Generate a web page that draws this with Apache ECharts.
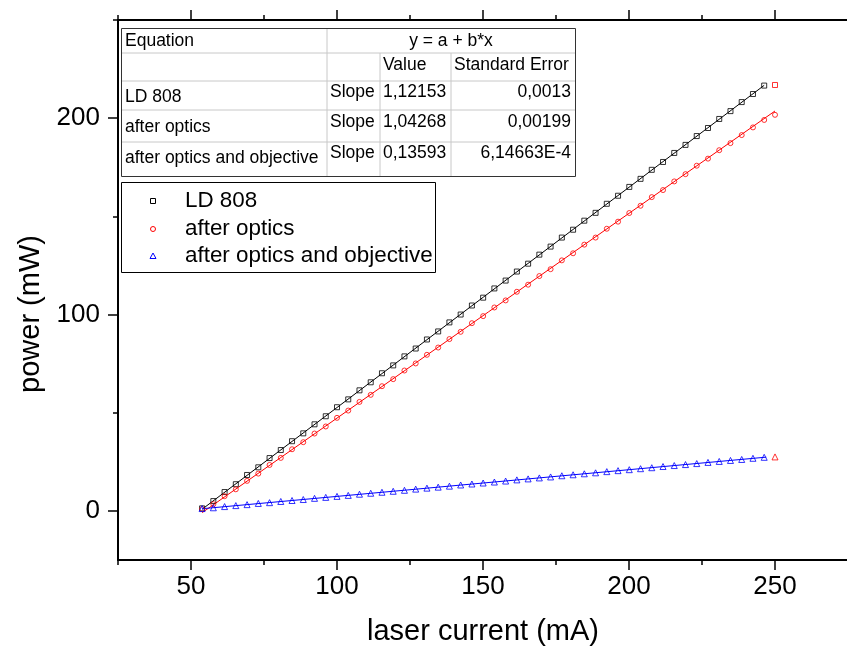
<!DOCTYPE html>
<html>
<head>
<meta charset="utf-8">
<title>LD 808 power vs current</title>
<script src="https://cdn.jsdelivr.net/npm/echarts@6/dist/echarts.min.js"></script>
<style>
  html, body { margin: 0; padding: 0; background: #fff; }
  #chart { width: 847px; height: 652px; }
</style>
</head>
<body>
<div id="chart"></div>
<script>
// Measured laser current (mA)
const current = [53.80, 57.65, 61.50, 65.35, 69.20, 73.05, 76.90, 80.75, 84.60, 88.45,
  92.30, 96.15, 100.00, 103.85, 107.70, 111.55, 115.40, 119.25, 123.10, 126.95,
  130.80, 134.65, 138.50, 142.35, 146.20, 150.05, 153.90, 157.75, 161.60, 165.45,
  169.30, 173.15, 177.00, 180.85, 184.70, 188.55, 192.40, 196.25, 200.10, 203.95,
  207.80, 211.65, 215.50, 219.35, 223.20, 227.05, 230.90, 234.75, 238.60, 242.45, 246.30];

// Optical power (mW) at each current
const ld808 = [1.3, 5.0, 9.6, 13.6, 18.3, 22.2, 26.9, 31.0, 35.5, 39.5,
  44.1, 48.2, 52.8, 56.8, 61.4, 65.5, 70.1, 74.1, 78.7, 82.7,
  87.3, 91.4, 96.0, 100.0, 104.6, 108.6, 113.3, 117.3, 121.9, 125.9,
  130.5, 134.6, 139.2, 143.2, 147.8, 151.8, 156.4, 160.5, 165.0, 169.1,
  173.7, 177.7, 182.3, 186.4, 190.9, 195.0, 199.6, 203.6, 208.2, 212.3, 216.6];
const afterOptics = [0.9, 3.4, 7.5, 11.0, 15.3, 19.0, 23.4, 27.0, 31.4, 35.0,
  39.4, 43.0, 47.4, 51.1, 55.5, 59.1, 63.5, 67.1, 71.5, 75.1,
  79.5, 83.2, 87.5, 91.2, 95.6, 99.2, 103.6, 107.2, 111.6, 115.2,
  119.6, 123.1, 127.6, 131.2, 135.6, 139.2, 143.7, 147.3, 151.7, 155.4,
  159.8, 163.4, 167.8, 171.5, 175.8, 179.4, 183.7, 187.3, 191.4, 195.3, 199.1];
const afterObjective = [1.2, 1.6, 2.2, 2.7, 3.2, 3.8, 4.2, 4.8, 5.3, 5.8,
  6.4, 6.9, 7.4, 7.9, 8.5, 9.0, 9.5, 10.0, 10.5, 11.1,
  11.6, 12.1, 12.6, 13.2, 13.7, 14.2, 14.7, 15.2, 15.8, 16.3,
  16.8, 17.3, 17.9, 18.4, 18.9, 19.4, 20.0, 20.5, 21.0, 21.5,
  22.0, 22.6, 23.1, 23.6, 24.1, 24.7, 25.2, 25.7, 26.2, 26.8, 27.3];

// Points excluded from the fits (drawn in red)
const maskedCurrent = 250;
const maskedPower = [216.9, 201.7, 27.5];

// Linear fits y = a + b*x
const seriesNames = ['LD 808', 'after optics', 'after optics and objective'];
const slopes = [1.12153, 1.04268, 0.13593];
const intercepts = [-59.5, -57.0, -6.2];
const fitStart = [53.8, 53.8, 53.8];
const fitEnd = [246.3, 250.0, 247.0];
const slopeText = ['1,12153', '1,04268', '0,13593'];
const stdErrText = ['0,0013', '0,00199', '6,14663E-4'];

// Axis ticks
const xMajorTicks = [50, 100, 150, 200, 250];
const xMinorTicks = [25, 75, 125, 175, 225, 275];
const yMajorTicks = [0, 100, 200];
const yMinorTicks = [50, 150, 250];

const colors = ['#000000', '#ff0000', '#0000ff'];
const symbols = ['rect', 'circle', 'triangle'];
const FONT = '"Liberation Sans", Arial, sans-serif';

const chart = echarts.init(document.getElementById('chart'), null, { renderer: 'canvas' });

const X_MIN = 25, X_MAX = 275, Y_MIN = -25, Y_MAX = 250;

function axisBase(extra) {
  return Object.assign({
    type: 'value', min: X_MIN, max: X_MAX,
    splitLine: { show: false },
    axisLine: { show: false, onZero: false, lineStyle: { color: '#000', width: 2 } },
    axisTick: { show: true, inside: false, lineStyle: { color: '#000', width: 1.5 } },
    axisLabel: { show: false }
  }, extra);
}

const xAxes = [
  axisBase({
    position: 'bottom',
    name: 'laser current (mA)', nameLocation: 'middle', nameGap: 57,
    nameTextStyle: { fontFamily: FONT, fontSize: 29, color: '#000' },
    axisLine: { show: true, onZero: false, lineStyle: { color: '#000', width: 2 } },
    axisTick: { show: true, length: 10, customValues: xMajorTicks, lineStyle: { color: '#000', width: 1.5 } },
    axisLabel: { show: true, customValues: xMajorTicks, margin: 14, fontFamily: FONT, fontSize: 26, color: '#000' }
  }),
  axisBase({ position: 'bottom', axisTick: { show: true, length: 5, customValues: xMinorTicks, lineStyle: { color: '#000', width: 1.5 } } }),
  axisBase({
    position: 'top',
    axisLine: { show: true, onZero: false, lineStyle: { color: '#000', width: 2 } },
    axisTick: { show: true, length: 10, customValues: xMajorTicks, lineStyle: { color: '#000', width: 1.5 } }
  }),
  axisBase({ position: 'top', axisTick: { show: true, length: 5, customValues: xMinorTicks, lineStyle: { color: '#000', width: 1.5 } } })
];

const yAxes = [
  axisBase({
    min: Y_MIN, max: Y_MAX, position: 'left',
    axisLine: { show: true, onZero: false, lineStyle: { color: '#000', width: 2 } },
    axisTick: { show: true, length: 10, customValues: yMajorTicks, lineStyle: { color: '#000', width: 1.5 } },
    axisLabel: { show: true, customValues: yMajorTicks, margin: 18, fontFamily: FONT, fontSize: 26, color: '#000' }
  }),
  axisBase({ min: Y_MIN, max: Y_MAX, position: 'left',
    axisTick: { show: true, length: 5, customValues: yMinorTicks, lineStyle: { color: '#000', width: 1.5 } } })
];

const measured = [ld808, afterOptics, afterObjective];
const series = [];
measured.forEach((vals, i) => {
  series.push({
    name: seriesNames[i], type: 'scatter', xAxisIndex: 0, yAxisIndex: 0,
    symbol: symbols[i], symbolSize: i === 2 ? 6 : 5,
    itemStyle: { color: 'rgba(255,255,255,0)', borderColor: colors[i], borderWidth: 1 },
    emphasis: { disabled: true },
    data: current.map((c, k) => [c, vals[k]]),
    z: 3
  });
  series.push({
    name: seriesNames[i] + ' fit', type: 'line', xAxisIndex: 0, yAxisIndex: 0,
    showSymbol: false, symbol: 'none', silent: true,
    lineStyle: { color: colors[i], width: 1 },
    data: [[fitStart[i], intercepts[i] + slopes[i] * fitStart[i]],
           [fitEnd[i], intercepts[i] + slopes[i] * fitEnd[i]]],
    z: 2
  });
});
series.push({
  name: 'masked', type: 'scatter', xAxisIndex: 0, yAxisIndex: 0,
  emphasis: { disabled: true },
  data: maskedPower.map((p, i) => ({
    value: [maskedCurrent, p], symbol: symbols[i], symbolSize: i === 2 ? 6 : 5
  })),
  itemStyle: { color: 'rgba(255,255,255,0)', borderColor: '#ff0000', borderWidth: 1 },
  z: 3
});

// Fit results table
const tbl = { cols: [121, 327, 380, 451, 575], rows: [28, 53, 81, 110, 142, 176] };
const gridGray = '#c8c8c8';
const tableFont = { fontFamily: FONT, fontSize: 17.5, fill: '#000' };
const graphics = [];
graphics.push({ type: 'rect', shape: { x: tbl.cols[0], y: tbl.rows[0], width: tbl.cols[4] - tbl.cols[0], height: tbl.rows[5] - tbl.rows[0] },
  style: { fill: '#fff', stroke: 'none' }, z: 10 });
for (let r = 1; r < 5; r++) {
  graphics.push({ type: 'line', shape: { x1: tbl.cols[0], y1: tbl.rows[r], x2: tbl.cols[4], y2: tbl.rows[r] },
    style: { stroke: gridGray, lineWidth: 1 }, z: 11 });
}
graphics.push({ type: 'line', shape: { x1: tbl.cols[1], y1: tbl.rows[0], x2: tbl.cols[1], y2: tbl.rows[5] }, style: { stroke: gridGray, lineWidth: 1 }, z: 11 });
graphics.push({ type: 'line', shape: { x1: tbl.cols[2], y1: tbl.rows[1], x2: tbl.cols[2], y2: tbl.rows[5] }, style: { stroke: gridGray, lineWidth: 1 }, z: 11 });
graphics.push({ type: 'line', shape: { x1: tbl.cols[3], y1: tbl.rows[1], x2: tbl.cols[3], y2: tbl.rows[5] }, style: { stroke: gridGray, lineWidth: 1 }, z: 11 });
graphics.push({ type: 'rect', shape: { x: tbl.cols[0] + 0.5, y: tbl.rows[0] + 0.5, width: tbl.cols[4] - tbl.cols[0], height: tbl.rows[5] - tbl.rows[0] },
  style: { fill: 'none', stroke: '#333', lineWidth: 1 }, z: 12 });

function cellText(text, x, y, align) {
  graphics.push({ type: 'text', x: x, y: y, z: 13,
    style: Object.assign({ text: text, align: align || 'left', verticalAlign: 'middle' }, tableFont) });
}
cellText('Equation', 125, 41);
cellText('y = a + b*x', (tbl.cols[1] + tbl.cols[4]) / 2, 41, 'center');
cellText('Value', 383, 65);
cellText('Standard Error', 454, 65);
const nameY = [97, 127, 158];
const valY = [92, 122, 153];
seriesNames.forEach((n, i) => {
  cellText(n, 125, nameY[i]);
  cellText('Slope', 330, valY[i]);
  cellText(slopeText[i], 383, valY[i]);
  cellText(stdErrText[i], 571, valY[i], 'right');
});

// Legend box
const lg = { x: 121, y: 182, w: 314, h: 90 };
graphics.push({ type: 'rect', shape: { x: lg.x + 0.5, y: lg.y + 0.5, width: lg.w, height: lg.h },
  style: { fill: '#fff', stroke: '#000', lineWidth: 1 }, z: 10 });
const legendY = [201, 229, 256];
seriesNames.forEach((n, i) => {
  const cx = 153, cy = legendY[i];
  let shape;
  if (i === 0) {
    shape = { type: 'rect', shape: { x: cx - 2.5, y: cy - 2.5, width: 5, height: 5 } };
  } else if (i === 1) {
    shape = { type: 'circle', shape: { cx: cx, cy: cy, r: 2.5 } };
  } else {
    shape = { type: 'polygon', shape: { points: [[cx, cy - 3], [cx + 3, cy + 2.5], [cx - 3, cy + 2.5]] } };
  }
  shape.style = { fill: 'none', stroke: colors[i], lineWidth: 1 };
  shape.z = 11;
  graphics.push(shape);
  graphics.push({ type: 'text', x: 185, y: cy, z: 11,
    style: { text: n, fontFamily: FONT, fontSize: 22.4, fill: '#000', align: 'left', verticalAlign: 'middle' } });
});

// Vertical axis title
graphics.push({ type: 'text', x: 31, y: 314, rotation: Math.PI / 2, z: 5,
  style: { text: 'power (mW)', fontFamily: FONT, fontSize: 29, fill: '#000', align: 'center', verticalAlign: 'middle' } });

chart.setOption({
  animation: false,
  backgroundColor: '#fff',
  grid: { left: 118, top: 20, right: -1, bottom: 92, outerBoundsMode: 'none', containLabel: false },
  xAxis: xAxes,
  yAxis: yAxes,
  series: series,
  graphic: { elements: graphics }
});
</script>
</body>
</html>
